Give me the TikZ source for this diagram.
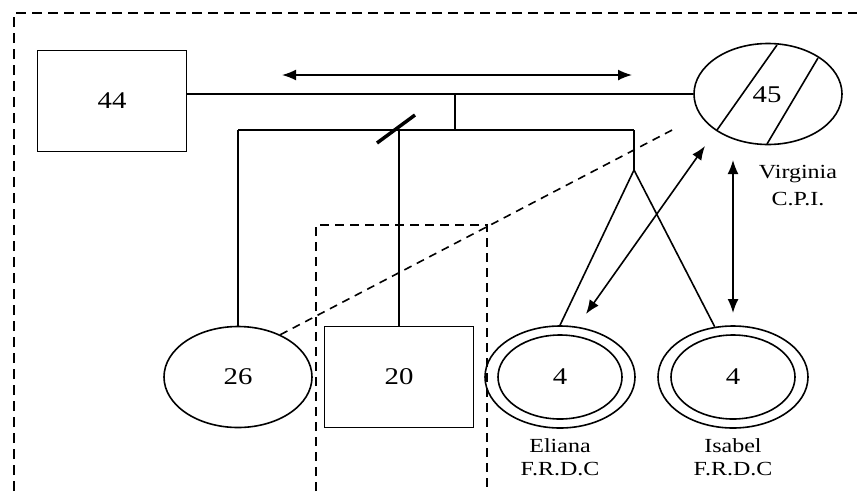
\documentclass[tikz,border=0pt]{standalone}
\usepackage{fontspec}
\setmainfont[FakeStretch=1.2]{Liberation Serif}
\usetikzlibrary{shapes.geometric,arrows.meta}

\tikzset{
  person/.style={draw, line width=1.6pt, inner sep=0pt, font=\fontsize{24}{28}\selectfont},
  male/.style={person, rectangle, minimum width=149pt, minimum height=101pt},
  female/.style={person, ellipse, minimum width=148pt, minimum height=101pt},
  inner/.style={person, ellipse, minimum width=124pt, minimum height=84pt},
  tag/.style={align=center, font=\fontsize{20}{23}\selectfont},
  link/.style={line width=1.6pt},
  bond/.style={line width=1.6pt, {Latex[length=14pt,width=11pt]}-{Latex[length=14pt,width=11pt]}},
}

\begin{document}
\begin{tikzpicture}[x=1pt,y=-1pt]
\useasboundingbox (0,0) rectangle (857,491);

% household and the twins' subsystem
\draw[line width=1.6pt, dash pattern=on 10pt off 6pt] (14,491) -- (14,13) -- (857,13);
\draw[line width=1.6pt, dash pattern=on 9pt off 6pt] (316,491) -- (316,225) -- (487,225) -- (487,491);

\node[male] (n44) at (112,101) {44};
\node[female] (n45) at (768,94) {};
\node[font=\fontsize{24}{28}\selectfont] (n45txt) at (767,95) {45};
\draw[link] (717,130) -- (777,45);
\draw[link] (767,144) -- (818,58);
\node[tag] (virginia) at (798,186) {Virginia\\[4pt]C.P.I.};

\node[female] (n26) at (238,377) {26};
\node[male] (n20) at (399,377) {20};
\node[female, minimum width=150pt, minimum height=102pt] (eliana) at (560,377) {};
\node[inner] (eliana-in) at (560,377) {4};
\node[female, minimum width=150pt, minimum height=102pt] (isabel) at (733,377) {};
\node[inner] (isabel-in) at (733,377) {4};
\node[tag] (eliana-lbl) at (560,457) {Eliana\\F.R.D.C};
\node[tag] (isabel-lbl) at (733,457) {Isabel\\F.R.D.C};

% couple line and sibling line
\coordinate (top) at (455,95);
\coordinate (sib) at (455,130);
\coordinate (sibL) at (238,130);
\coordinate (sibR) at (634,130);
\coordinate (twin) at (634,170);
\draw[link] (n44.east |- n45.west) -- (n45.west);
\draw[link] (top) -- (sib);
\draw[link] (sibL) -- (sibR);
\draw[link] (sibL) -- (n26.north);
\draw[link] (n20.north |- sibL) -- (n20.north);
\draw[line width=3.5pt] (377,143) -- (415,115);
\draw[link] (sibR) -- (twin);
\draw[link] (twin) -- (eliana.north);
\draw[link] (twin) -- (isabel.110);

% relations
\coordinate (pa) at (282,75);
\coordinate (pb) at (632,75);
\coordinate (ea) at (586,314);
\coordinate (va) at (705,146);
\coordinate (vb) at (733,160);
\coordinate (ia) at (733,313);
\coordinate (far) at (676,128);
\draw[bond] (pa) -- (pb);
\draw[bond] (ea) -- (va);
\draw[bond] (ia) -- (vb);
\draw[line width=1.6pt, dash pattern=on 8pt off 6pt] (n26.45) -- (far);
\end{tikzpicture}
\end{document}
